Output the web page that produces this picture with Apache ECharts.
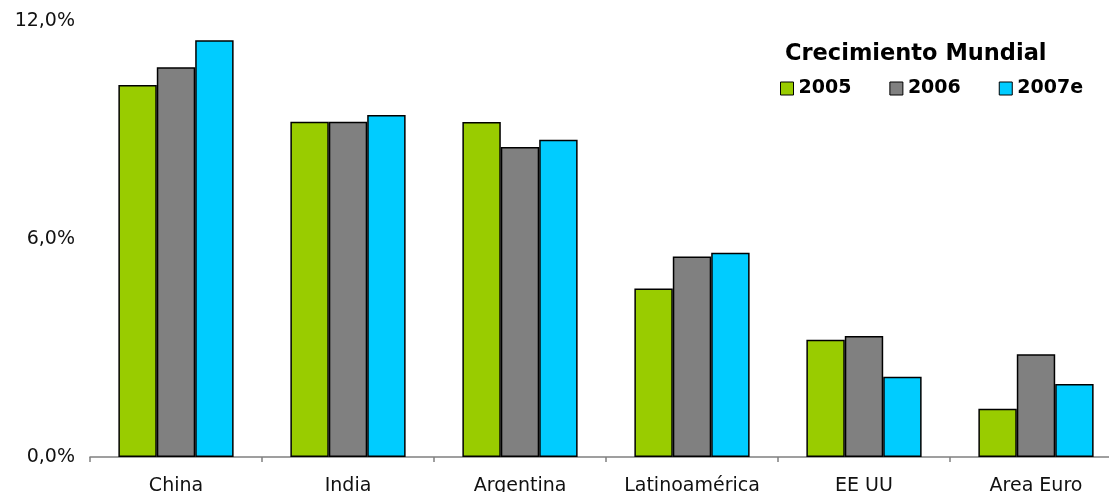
<!DOCTYPE html>
<html>
<head>
<meta charset="utf-8">
<script src="https://cdn.jsdelivr.net/npm/echarts@6/dist/echarts.min.js"></script>
<style>
html,body{margin:0;padding:0;background:#fff;}
#chart{width:1109px;height:492px;}
</style>
</head>
<body>
<div id="chart"></div>
<script>
var categories = ['China', 'India', 'Argentina', 'Latinoamérica', 'EE UU', 'Area Euro'];
var seriesNames = ['2005', '2006', '2007e'];
var values2005 = [10.24, 9.23, 9.22, 4.64, 3.23, 1.33];
var values2006 = [10.73, 9.23, 8.53, 5.52, 3.33, 2.83];
var values2007e = [11.47, 9.41, 8.73, 5.62, 2.21, 2.01];
var yTicks = [0, 6, 12];
var colors = ['#99CC00', '#808080', '#00CCFF'];

var chart = echarts.init(document.getElementById('chart'));
var font = 'DejaVu Sans, Verdana, sans-serif';
var allValues = [values2005, values2006, values2007e];
chart.setOption({
  animation: false,
  title: {
    text: 'Crecimiento Mundial',
    left: 785,
    top: 43,
    padding: 0,
    textStyle: {fontFamily: font, fontSize: 22.5, fontWeight: 'bold', color: '#000'}
  },
  legend: {
    data: seriesNames,
    left: 780,
    top: 79,
    padding: 0,
    itemWidth: 13,
    itemHeight: 13,
    itemGap: 38,
    icon: 'rect',
    textStyle: {fontFamily: font, fontSize: 19, fontWeight: 'bold', color: '#000', padding: [0, 0, 0, 0]},
    itemStyle: {borderColor: '#000', borderWidth: 1}
  },
  grid: {left: 90, top: 21, bottom: 35, width: 1032, containLabel: false, outerBoundsMode: 'none'},
  xAxis: {
    type: 'category',
    data: categories,
    axisLine: {lineStyle: {color: '#808080', width: 1.5}},
    axisTick: {show: true, length: 5, lineStyle: {color: '#808080', width: 1.5}},
    axisLabel: {fontFamily: font, fontSize: 19, color: '#111', margin: 20, interval: 0, hideOverlap: false}
  },
  yAxis: {
    type: 'value',
    min: yTicks[0],
    max: yTicks[yTicks.length - 1],
    interval: yTicks[1] - yTicks[0],
    axisLine: {show: false},
    axisTick: {show: false},
    splitLine: {show: false},
    axisLabel: {
      fontFamily: font, fontSize: 19, color: '#111', margin: 15,
      formatter: function (v) { return v.toFixed(1).replace('.', ',') + '%'; }
    }
  },
  series: seriesNames.map(function (name, i) {
    return {
      name: name,
      type: 'bar',
      data: allValues[i],
      barGap: '0%',
      barCategoryGap: '33%',
      itemStyle: {color: colors[i], borderColor: '#000', borderWidth: 1.5}
    };
  })
});
</script>
</body>
</html>
